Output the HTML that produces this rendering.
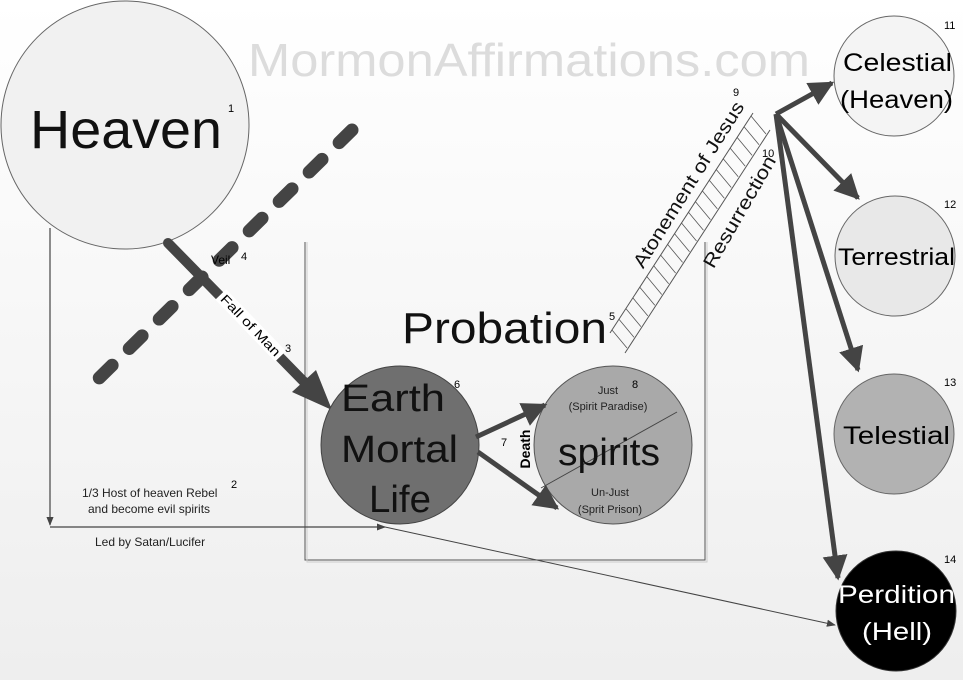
<!DOCTYPE html>
<html><head><meta charset="utf-8"><style>
html,body{margin:0;padding:0;background:#fff}
svg{display:block;font-family:"Liberation Sans",sans-serif}
</style></head><body>
<svg width="963" height="680" viewBox="0 0 963 680" xmlns="http://www.w3.org/2000/svg">
<defs>
<linearGradient id="bg" x1="0" y1="0" x2="0" y2="1"><stop offset="0" stop-color="#ffffff"/><stop offset="1" stop-color="#eeeeee"/></linearGradient>
<marker id="ahs" viewBox="0 0 10 10" refX="9" refY="5" markerWidth="9" markerHeight="9" markerUnits="userSpaceOnUse" orient="auto"><path d="M0,1 L10,5 L0,9 z" fill="#444"/></marker>
<marker id="ahb" viewBox="0 0 10 10" refX="9" refY="5" markerWidth="5" markerHeight="5" orient="auto"><path d="M0,0 L10,5 L0,10 z" fill="#444"/></marker>
</defs>
<rect width="963" height="680" fill="url(#bg)"/>
<text x="248" y="76" font-size="46" fill="#dcdcdc" textLength="562" lengthAdjust="spacingAndGlyphs">MormonAffirmations.com</text>

<!-- Heaven -->
<circle cx="125" cy="125" r="124" fill="#f1f1f1" stroke="#666" stroke-width="1"/>
<text x="30" y="148" font-size="54" fill="#111" textLength="192" lengthAdjust="spacingAndGlyphs">Heaven</text>
<text x="228" y="112" font-size="11">1</text>

<!-- probation box -->
<path d="M305,242 V560 H705 V242" fill="none" stroke="#555" stroke-width="1"/>
<path d="M307,242 V562 H707 V242" fill="none" stroke="#ccc" stroke-width="1"/>
<text x="402" y="343" font-size="44" fill="#111" textLength="205" lengthAdjust="spacingAndGlyphs">Probation</text>
<text x="609" y="320" font-size="11">5</text>

<!-- left rebel path -->
<line x1="50" y1="228" x2="50" y2="525" stroke="#444" stroke-width="1.2" marker-end="url(#ahs)"/>
<line x1="50" y1="527" x2="385" y2="527" stroke="#444" stroke-width="1.2" marker-end="url(#ahs)"/>
<line x1="385" y1="527" x2="835" y2="625" stroke="#444" stroke-width="1" marker-end="url(#ahs)"/>
<text x="82" y="497" font-size="12" fill="#222">1/3 Host of heaven Rebel</text>
<text x="231" y="488" font-size="11">2</text>
<text x="88" y="513" font-size="12" fill="#222">and become evil spirits</text>
<text x="95" y="546" font-size="12" fill="#222">Led by Satan/Lucifer</text>

<!-- veil -->
<line x1="352" y1="130" x2="92" y2="385" stroke="#444" stroke-width="13" stroke-linecap="round" stroke-dasharray="18 24"/>
<!-- fall of man -->
<line x1="168" y1="243" x2="312" y2="390" stroke="#444" stroke-width="10" stroke-linecap="round"/>
<path d="M332,410 L292,392 L316,370 z" fill="#444"/>
<text x="211" y="264" font-size="12">Veil</text>
<text x="241" y="260" font-size="11">4</text>
<rect x="208" y="318" width="86" height="15" fill="#fff" transform="rotate(46 251 325)"/>
<text x="251" y="330" font-size="13" text-anchor="middle" transform="rotate(46 251 325)" textLength="80" lengthAdjust="spacingAndGlyphs">Fall of Man</text>
<text x="285" y="352" font-size="11">3</text>

<!-- Earth -->
<circle cx="400" cy="445" r="79" fill="#6f6f6f" stroke="#444"/>
<text x="341" y="411" font-size="38" fill="#111" textLength="104" lengthAdjust="spacingAndGlyphs">Earth</text>
<text x="341" y="462" font-size="38" fill="#111" textLength="117" lengthAdjust="spacingAndGlyphs">Mortal</text>
<text x="369" y="512" font-size="38" fill="#111" textLength="62" lengthAdjust="spacingAndGlyphs">Life</text>
<text x="454" y="388" font-size="11">6</text>

<!-- spirits -->
<circle cx="613" cy="445" r="79" fill="#a9a9a9" stroke="#555"/>
<line x1="541" y1="488" x2="677" y2="412" stroke="#444" stroke-width="1"/>
<text x="608" y="394" font-size="11" text-anchor="middle" fill="#222">Just</text>
<text x="608" y="410" font-size="11" text-anchor="middle" fill="#222">(Spirit Paradise)</text>
<text x="558" y="465" font-size="38" fill="#111" textLength="102" lengthAdjust="spacingAndGlyphs">spirits</text>
<text x="610" y="496" font-size="11" text-anchor="middle" fill="#222">Un-Just</text>
<text x="610" y="513" font-size="11" text-anchor="middle" fill="#222">(Sprit Prison)</text>
<text x="632" y="388" font-size="11">8</text>
<line x1="476" y1="437" x2="545" y2="405" stroke="#444" stroke-width="5" marker-end="url(#ahb)"/>
<line x1="478" y1="452" x2="557" y2="508" stroke="#444" stroke-width="5" marker-end="url(#ahb)"/>
<text x="525" y="449" font-size="14" font-weight="bold" text-anchor="middle" transform="rotate(-90 525 449)" dy="5">Death</text>
<text x="501" y="446" font-size="11">7</text>

<!-- ladder -->
<g stroke="#555" stroke-width="1">
<line x1="610" y1="333" x2="753" y2="113"/>
<line x1="625" y1="353" x2="770" y2="130"/>
</g>
<g id="rungs" stroke="#555" stroke-width="0.8"></g>
<script>
(function(){var g=document.getElementById('rungs');var n=20;for(var i=0;i<=n;i++){var t=i/n;var x1=612+(751-612)*t,y1=330+(116-330)*t;var x2=x1+15,y2=y1+18;var l=document.createElementNS('http://www.w3.org/2000/svg','line');l.setAttribute('x1',x1);l.setAttribute('y1',y1);l.setAttribute('x2',x2);l.setAttribute('y2',y2);g.appendChild(l);}})();
</script>
<text x="694" y="188" font-size="19" text-anchor="middle" transform="rotate(-58 694 188)" fill="#111" textLength="192" lengthAdjust="spacingAndGlyphs">Atonement of Jesus</text>
<text x="733" y="96" font-size="11">9</text>
<text x="745" y="215" font-size="19" text-anchor="middle" transform="rotate(-60 745 215)" fill="#111" textLength="126" lengthAdjust="spacingAndGlyphs">Resurrection</text>
<text x="762" y="157" font-size="11">10</text>

<!-- judgement arrows -->
<g stroke="#444" stroke-width="5" fill="none">
<line x1="776" y1="114" x2="832" y2="83" marker-end="url(#ahb)"/>
<line x1="776" y1="114" x2="858" y2="198" marker-end="url(#ahb)"/>
<line x1="776" y1="114" x2="858" y2="370" marker-end="url(#ahb)"/>
<line x1="776" y1="114" x2="838" y2="578" marker-end="url(#ahb)"/>
</g>

<!-- kingdoms -->
<circle cx="894" cy="76" r="60" fill="#f4f4f4" stroke="#666"/>
<text x="843" y="71" font-size="25" textLength="109" lengthAdjust="spacingAndGlyphs">Celestial</text>
<text x="840" y="108" font-size="25" textLength="113" lengthAdjust="spacingAndGlyphs">(Heaven)</text>
<text x="944" y="29" font-size="11">11</text>
<circle cx="895" cy="256" r="60" fill="#e8e8e8" stroke="#666"/>
<text x="838" y="265" font-size="24" textLength="117" lengthAdjust="spacingAndGlyphs">Terrestrial</text>
<text x="944" y="208" font-size="11">12</text>
<circle cx="894" cy="434" r="60" fill="#b2b2b2" stroke="#666"/>
<text x="843" y="444" font-size="25" textLength="107" lengthAdjust="spacingAndGlyphs">Telestial</text>
<text x="944" y="386" font-size="11">13</text>
<circle cx="896" cy="611" r="60" fill="#000" stroke="#333"/>
<text x="838" y="603" font-size="25" fill="#fff" textLength="117" lengthAdjust="spacingAndGlyphs">Perdition</text>
<text x="862" y="640" font-size="25" fill="#fff" textLength="70" lengthAdjust="spacingAndGlyphs">(Hell)</text>
<text x="944" y="563" font-size="11">14</text>
</svg>
</body></html>
